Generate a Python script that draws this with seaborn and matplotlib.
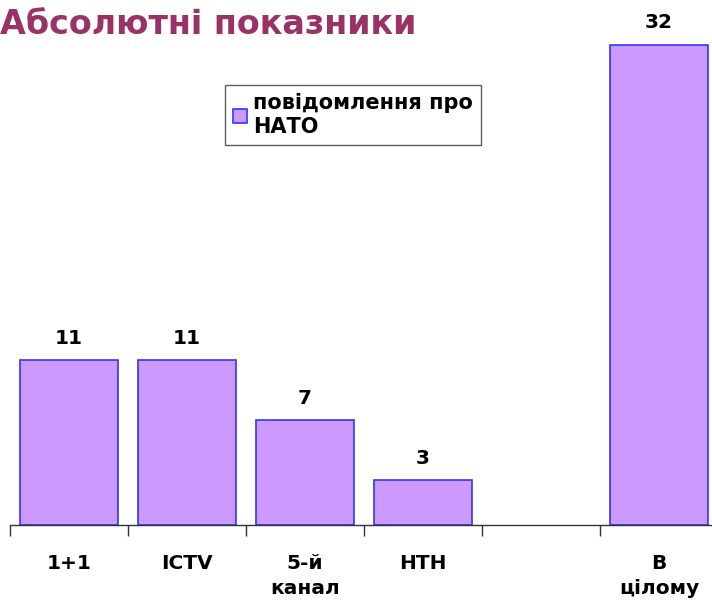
import numpy as np
import pandas as pd
import seaborn as sns
import matplotlib.pyplot as plt
from matplotlib.ticker import FixedLocator

categories = ["1+1", "ICTV", "5-й\nканал", "НТН", " ", "В\nцілому"]
channels = ["1+1", "ICTV", "5-й\nканал", "НТН", "В\nцілому"]
counts = [11, 11, 7, 3, 32]
series_name = "повідомлення про\nНАТО"
title = "Абсолютні показники"

sns.set_style("white")
plt.rcParams['font.family'] = ['DejaVu Sans']

df = pd.DataFrame({"channel": channels, "count": counts})

fig = plt.figure(figsize=(7.12, 6.05), dpi=100)
# axes spans from x=10px to past the right edge, like the original
ax = fig.add_axes([10 / 712, 80 / 605, 708 / 712, 495 / 605])

sns.barplot(data=df, x="channel", y="count", order=categories,
            color="#CC99FF", saturation=1, width=0.83,
            edgecolor="#3333FF", linewidth=1.2, label=series_name, ax=ax)

ax.set_xlim(-0.5, len(categories) - 0.5)
ax.set_ylim(0, 33)
ax.set_xlabel("")
ax.set_ylabel("")
ax.set_yticks([])

for s in ["top", "right", "left"]:
    ax.spines[s].set_visible(False)
ax.spines["bottom"].set_color("#333333")
ax.spines["bottom"].set_linewidth(1.0)

ax.xaxis.set_minor_locator(FixedLocator(np.arange(-0.5, len(categories), 1)))
ax.tick_params(axis="x", which="major", bottom=False, length=0, pad=21, labelcolor="black")
ax.tick_params(axis="x", which="minor", bottom=True, length=8, width=1,
               color="#333333", direction="out")
for lbl in ax.get_xticklabels():
    lbl.set_fontweight("bold")
    lbl.set_fontsize(14.5)
    lbl.set_linespacing(1.4)
    lbl.set_verticalalignment("top")

ax.bar_label(ax.containers[0], fontweight="bold", fontsize=14.5, padding=9, color="black")

leg = ax.legend(loc="upper left", bbox_to_anchor=(215 / 708, 440 / 495),
                frameon=True, fancybox=False, edgecolor="#333333",
                prop={"weight": "bold", "size": 15},
                handlelength=0.65, handleheight=0.65, handletextpad=0.3,
                borderpad=0.4, borderaxespad=0, labelspacing=0.2)
leg.get_frame().set_linewidth(1.0)
for t in leg.get_texts():
    t.set_color("black")

fig.text(0.0, 1 - 24 / 605, title, ha="left", va="center",
         fontsize=24, fontweight="bold", color="#993366")

fig.savefig("out.png", dpi=100)
